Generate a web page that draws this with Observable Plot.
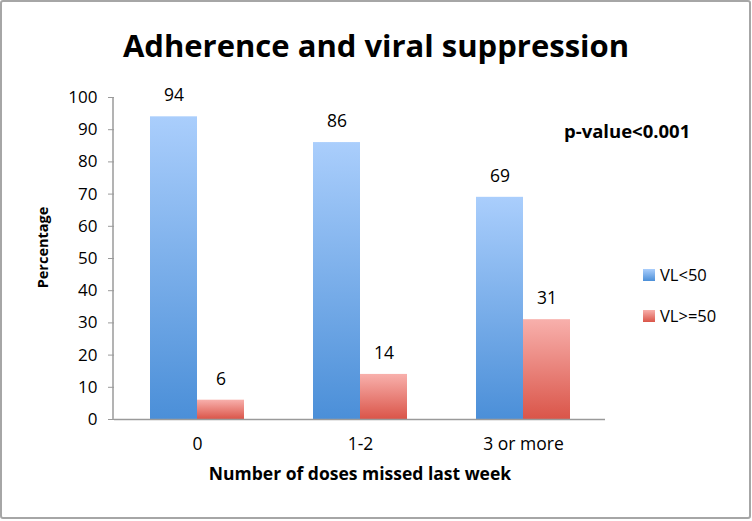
<!DOCTYPE html>
<html>
<head>
<meta charset="utf-8">
<script src="https://cdn.jsdelivr.net/npm/d3@7"></script>
<script src="https://cdn.jsdelivr.net/npm/@observablehq/plot@0.6"></script>
<style>
  html, body { margin: 0; padding: 0; background: #fff; }
  #wrap { position: relative; width: 752px; height: 521px; font-family: "Open Sans", Lato, sans-serif; color: #000; overflow: hidden; }
  #border { position: absolute; left: 0; top: 0; width: 751px; height: 519px; box-sizing: border-box; border: 2px solid #a6a6a6; border-radius: 3px; pointer-events: none; }
  #chart { position: absolute; left: 0; top: 0; }
  .title { position: absolute; left: 0; width: 752px; top: 25px; text-align: center; font-size: 31px; font-weight: bold; line-height: 40px; }
  .pval { position: absolute; left: 564px; top: 119px; font-size: 18.5px; font-weight: bold; line-height: 24px; }
  .legend-item { position: absolute; left: 643px; display: flex; align-items: center; font-size: 16.5px; line-height: 22px; }
  .sw { width: 12px; height: 12px; margin-right: 5px; }
</style>
</head>
<body>
<div id="wrap">
  <div id="chart"></div>
  <div class="title" id="title"></div>
  <div class="pval" id="pval"></div>
  <div id="legend"></div>
  <div id="border"></div>
</div>
<script>
const titleText = "Adherence and viral suppression";
const pValueText = "p-value<0.001";
const xLabel = "Number of doses missed last week";
const yLabel = "Percentage";
const categories = ["0", "1-2", "3 or more"];
const seriesNames = ["VL<50", "VL>=50"];
const vlBelow50 = [94, 86, 69];
const vlAbove50 = [6, 14, 31];
const yTicks = [0, 10, 20, 30, 40, 50, 60, 70, 80, 90, 100];

const blueStops = ["#aacefc", "#4b8fd8"];
const redStops = ["#f8b0ac", "#da5549"];

const rowsBlue = categories.map((c, i) => ({category: c, series: seriesNames[0], value: vlBelow50[i]}));
const rowsRed = categories.map((c, i) => ({category: c, series: seriesNames[1], value: vlAbove50[i]}));

const half = 47;
const FONT = "'Open Sans', Lato, sans-serif";

const plot = Plot.plot({
  width: 752,
  height: 521,
  marginTop: 97,
  marginBottom: 102,
  marginLeft: 114,
  marginRight: 147,
  style: {fontFamily: FONT, fontSize: "16px", color: "#000", background: "transparent"},
  x: {domain: categories, paddingInner: 0.426, paddingOuter: 0.213, label: null},
  y: {domain: [0, 100], label: null},
  marks: [
    Plot.barY(rowsBlue, {x: "category", y: "value", fill: "url(#gradBlue)", insetRight: half}),
    Plot.barY(rowsRed, {x: "category", y: "value", fill: "url(#gradRed)", insetLeft: half}),
    Plot.ruleY([0], {stroke: "#9a9a9a", strokeWidth: 1.5}),
    Plot.axisY({ticks: yTicks, tickSize: 6, tickPadding: 11, stroke: "#9a9a9a", fill: "#000", label: null, fontSize: 17}),
    Plot.axisX({tickSize: 0, tickPadding: 18, label: null, fill: "#000", fontSize: 17.5}),
    Plot.text(rowsBlue, {x: "category", y: "value", text: d => String(d.value), dx: -half / 2, dy: -21, fill: "#000", fontSize: 17.5}),
    Plot.text(rowsRed, {x: "category", y: "value", text: d => String(d.value), dx: half / 2, dy: -21, fill: "#000", fontSize: 17.5}),
    Plot.text([xLabel], {text: d => d, frameAnchor: "bottom", dy: 60, fontWeight: "bold", fontSize: 17.5, fill: "#000"}),
    Plot.text([yLabel], {text: d => d, frameAnchor: "left", textAnchor: "middle", rotate: -90, dx: -71, dy: -11, fontWeight: "bold", fontSize: 14.5, fill: "#000"})
  ]
});

document.getElementById("chart").appendChild(plot);

const svg = d3.select(plot);
const defs = svg.insert("defs", ":first-child");
function grad(id, stops) {
  const g = defs.append("linearGradient").attr("id", id).attr("x1", 0).attr("y1", 0).attr("x2", 0).attr("y2", 1);
  g.append("stop").attr("offset", "0%").attr("stop-color", stops[0]);
  g.append("stop").attr("offset", "100%").attr("stop-color", stops[1]);
}
grad("gradBlue", blueStops);
grad("gradRed", redStops);

// y-axis line from the library's scales
const xs = plot.scale("x");
const ys = plot.scale("y");
svg.append("line")
  .attr("x1", xs.range[0] - 1).attr("x2", xs.range[0] - 1)
  .attr("y1", ys.apply(0)).attr("y2", ys.apply(100))
  .attr("stroke", "#9a9a9a").attr("stroke-width", 1.5);

document.getElementById("title").textContent = titleText;
document.getElementById("pval").textContent = pValueText;

const legend = document.getElementById("legend");
const legendTops = [264, 305];
seriesNames.forEach((name, i) => {
  const item = document.createElement("div");
  item.className = "legend-item";
  item.style.top = legendTops[i] + "px";
  const sw = document.createElement("div");
  sw.className = "sw";
  const st = i === 0 ? blueStops : redStops;
  sw.style.background = `linear-gradient(${st[0]}, ${st[1]})`;
  const lab = document.createElement("span");
  lab.textContent = name;
  item.appendChild(sw);
  item.appendChild(lab);
  legend.appendChild(item);
});
</script>
</body>
</html>
